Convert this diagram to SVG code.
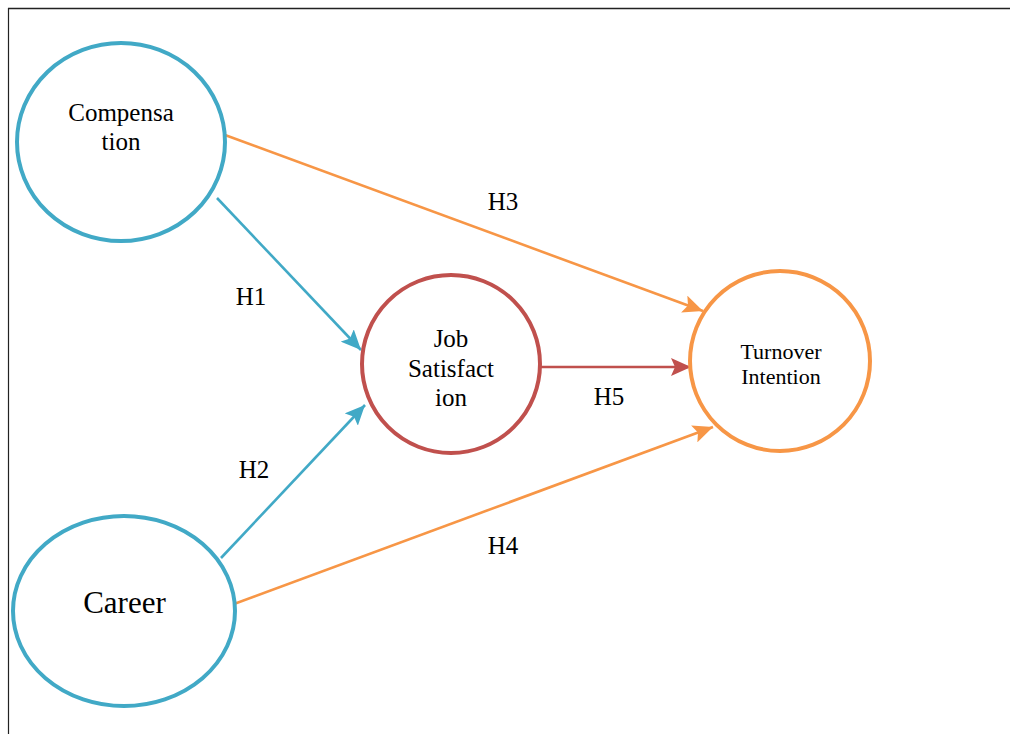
<svg xmlns="http://www.w3.org/2000/svg" width="1010" height="734" viewBox="0 0 1010 734">
<style>
.t{font-family:"Liberation Serif","Times New Roman",serif;fill:#000;text-anchor:middle}
.blue{stroke:#41A9C6}
.red{stroke:#C0504D}
.orange{stroke:#F79646}
.node{fill:#fff;stroke-width:4}
.conn{fill:none;stroke-width:2.6}
</style>
<defs>
<marker id="ab" markerUnits="userSpaceOnUse" markerWidth="22" markerHeight="18" refX="20" refY="9" orient="auto"><path d="M0,0 L20,9 L0,18 L4,9 Z" fill="#41A9C6"/></marker>
<marker id="ar" markerUnits="userSpaceOnUse" markerWidth="22" markerHeight="18" refX="20" refY="9" orient="auto"><path d="M0,0 L20,9 L0,18 L4,9 Z" fill="#C0504D"/></marker>
<marker id="ao" markerUnits="userSpaceOnUse" markerWidth="22" markerHeight="18" refX="20" refY="9" orient="auto"><path d="M0,0 L20,9 L0,18 L4,9 Z" fill="#F79646"/></marker>
</defs>
<rect width="1010" height="734" fill="#fff"/>
<g id="border" stroke="#222" fill="none">
<line x1="8" y1="8.5" x2="1010" y2="8.5" stroke-width="1.5"/>
<line x1="8.5" y1="8" x2="8.5" y2="734" stroke-width="1.2"/>
</g>
<g id="connectors">
<line class="conn orange" x1="225" y1="135" x2="703" y2="311" marker-end="url(#ao)"/>
<line class="conn blue" x1="217" y1="198" x2="361" y2="350" marker-end="url(#ab)"/>
<line class="conn blue" x1="221" y1="558" x2="365" y2="405" marker-end="url(#ab)"/>
<line class="conn orange" x1="234" y1="604" x2="713" y2="427" marker-end="url(#ao)"/>
<line class="conn red" x1="540" y1="367" x2="691" y2="367" marker-end="url(#ar)"/>
<text class="t" x="503" y="210" font-size="25">H3</text>
<text class="t" x="251" y="305" font-size="25">H1</text>
<text class="t" x="254" y="478" font-size="25">H2</text>
<text class="t" x="503" y="554" font-size="25">H4</text>
<text class="t" x="609" y="405" font-size="25">H5</text>
</g>
<g id="compensation">
<ellipse class="node blue" cx="121" cy="142" rx="104" ry="99"/>
<text class="t" x="121" y="121" font-size="25">Compensa</text>
<text class="t" x="121" y="149.5" font-size="25">tion</text>
</g>
<g id="career">
<ellipse class="node blue" cx="124" cy="611" rx="111" ry="95"/>
<text class="t" x="124.5" y="613" font-size="31">Career</text>
</g>
<g id="job-satisfaction">
<circle class="node red" cx="451" cy="364" r="89"/>
<text class="t" x="451" y="347" font-size="25">Job</text>
<text class="t" x="451" y="377" font-size="25">Satisfact</text>
<text class="t" x="451" y="406" font-size="25">ion</text>
</g>
<g id="turnover-intention">
<circle class="node orange" cx="780" cy="361" r="90"/>
<text class="t" x="781" y="359" font-size="22">Turnover</text>
<text class="t" x="781" y="384" font-size="22">Intention</text>
</g>
</svg>
